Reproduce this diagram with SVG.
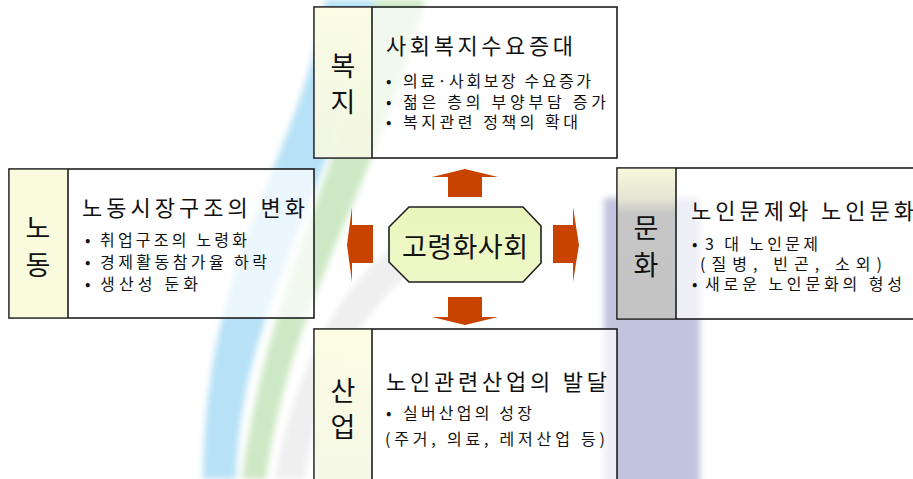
<svg xmlns="http://www.w3.org/2000/svg" width="913" height="479" viewBox="0 0 913 479">
<style>
.box{fill:#ffffff;fill-opacity:0.72;stroke:#1e1e1e;stroke-width:1.6}
.div{stroke:#1e1e1e;stroke-width:1.6}
.title{font-family:"Noto Sans CJK KR","Noto Sans",sans-serif;font-size:22px;fill:#111}
.body{font-family:"Noto Sans CJK KR","Noto Sans",sans-serif;font-size:16px;fill:#111}
.lab{font-family:"Noto Sans CJK KR","Noto Sans",sans-serif;font-size:27px;fill:#111;text-anchor:middle}
.arrow{fill:#c84300}
</style>
<defs>
<filter id="blur" x="-20%" y="-20%" width="140%" height="140%"><feGaussianBlur stdDeviation="3"/></filter>
<linearGradient id="yel" x1="0" y1="0" x2="0" y2="1">
<stop offset="0" stop-color="#fdfde0"/><stop offset="1" stop-color="#f2f6e0"/>
</linearGradient>
<linearGradient id="gry" x1="0" y1="0" x2="0" y2="1">
<stop offset="0" stop-color="#f8f8dc"/><stop offset="0.2" stop-color="#e4e4d4"/><stop offset="0.3" stop-color="#c6c6c6"/><stop offset="1" stop-color="#c4c4c4"/>
</linearGradient>
<linearGradient id="oct" x1="0" y1="0" x2="0" y2="1">
<stop offset="0" stop-color="#eaf6bc"/><stop offset="1" stop-color="#eef8c8"/>
</linearGradient>
</defs>
<rect width="913" height="479" fill="#ffffff"/>
<g id="background" filter="url(#blur)">
<path d="M325 0 C300 160 205 250 203 479 L236 479 C240 310 330 200 375 0 Z" fill="#b6e1f6"/>
<path d="M375 0 C345 170 268 280 242 479 L266 479 C290 300 380 180 425 0 Z" fill="#cde8c4"/>
<path d="M275 479 C300 340 360 260 420 230 L440 250 C380 290 320 360 305 479 Z" fill="#efefef"/>
<rect x="604" y="198" width="96" height="290" fill="#c2c3dd"/>
</g>
<g id="connectors">
<path class="arrow" d="M448 197 L448 177 L432 177 L465 169 L498 177 L482 177 L482 197 Z"/>
<path class="arrow" d="M448 297 L448 317 L432 317 L465 325 L498 317 L482 317 L482 297 Z"/>
<path class="arrow" d="M373 225 L352 225 L352 207 L347 245 L352 282 L352 263 L373 263 Z"/>
<path class="arrow" d="M553 225 L573 225 L573 207 L579 245 L573 282 L573 263 L553 263 Z"/>
</g>
<g id="center">
<path d="M409 207 L523 207 L541 226 L541 263 L523 282 L409 282 L389 262 L389 227 Z" fill="url(#oct)" stroke="#1e1e1e" stroke-width="1.6"/>
<text x="465" y="257" font-family="'Noto Sans CJK KR','Noto Sans',sans-serif" font-size="27" fill="#111" text-anchor="middle" textLength="126" lengthAdjust="spacing">고령화사회</text>
</g>
<g id="welfare">
<rect class="box" x="314" y="7" width="303" height="151"/>
<rect x="314.8" y="7.8" width="57.2" height="149.4" fill="url(#yel)" fill-opacity="0.85"/>
<line class="div" x1="372" y1="7" x2="372" y2="158"/>
<text class="lab" x="343" y="76">복</text>
<text class="lab" x="343" y="112">지</text>
<text class="title" x="386" y="54" textLength="187" lengthAdjust="spacing">사회복지수요증대</text>
<text class="body" x="386" y="87">•</text>
<text class="body" x="403" y="87" textLength="188" lengthAdjust="spacing">의료·사회보장 수요증가</text>
<text class="body" x="386" y="108">•</text>
<text class="body" x="403" y="108" textLength="203" lengthAdjust="spacing">젊은 층의 부양부담 증가</text>
<text class="body" x="386" y="128">•</text>
<text class="body" x="403" y="128" textLength="175" lengthAdjust="spacing">복지관련 정책의 확대</text>
</g>
<g id="labor">
<rect class="box" x="9" y="169" width="305" height="149"/>
<rect x="9.8" y="169.8" width="58.2" height="147.4" fill="#fafadc"/>
<line class="div" x1="68" y1="169" x2="68" y2="318"/>
<text class="lab" x="38" y="238">노</text>
<text class="lab" x="38" y="275">동</text>
<text class="title" x="82" y="216" textLength="223" lengthAdjust="spacing">노동시장구조의 변화</text>
<text class="body" x="85" y="246">•</text>
<text class="body" x="100" y="246" textLength="147" lengthAdjust="spacing">취업구조의 노령화</text>
<text class="body" x="85" y="268">•</text>
<text class="body" x="100" y="268" textLength="167" lengthAdjust="spacing">경제활동참가율 하락</text>
<text class="body" x="85" y="290">•</text>
<text class="body" x="100" y="290" textLength="98" lengthAdjust="spacing">생산성 둔화</text>
</g>
<g id="culture">
<rect class="box" x="617" y="168" width="310" height="151"/>
<rect x="617.8" y="168.8" width="58.2" height="149.4" fill="url(#gry)"/>
<line class="div" x1="676" y1="168" x2="676" y2="319"/>
<text class="lab" x="646" y="238">문</text>
<text class="lab" x="646" y="275">화</text>
<text class="title" x="691" y="219" textLength="223" lengthAdjust="spacing">노인문제와 노인문화</text>
<text class="body" x="692" y="250">•</text>
<text class="body" x="705" y="250" textLength="113" lengthAdjust="spacing">3 대 노인문제</text>
<text class="body" x="700" y="270" textLength="182" lengthAdjust="spacing">(질병, 빈곤, 소외)</text>
<text class="body" x="692" y="290">•</text>
<text class="body" x="705" y="290" textLength="197" lengthAdjust="spacing">새로운 노인문화의 형성</text>
</g>
<g id="industry">
<rect class="box" x="314" y="329" width="303" height="160"/>
<rect x="314.8" y="329.8" width="57.2" height="158" fill="url(#yel)" fill-opacity="0.85"/>
<line class="div" x1="372" y1="329" x2="372" y2="479"/>
<text class="lab" x="343" y="401">산</text>
<text class="lab" x="343" y="437">업</text>
<text class="title" x="386" y="390" textLength="221" lengthAdjust="spacing">노인관련산업의 발달</text>
<text class="body" x="386" y="419">•</text>
<text class="body" x="403" y="419" textLength="129" lengthAdjust="spacing">실버산업의 성장</text>
<text class="body" x="385" y="445" textLength="220" lengthAdjust="spacing">(주거, 의료, 레저산업 등)</text>
</g>
</svg>
